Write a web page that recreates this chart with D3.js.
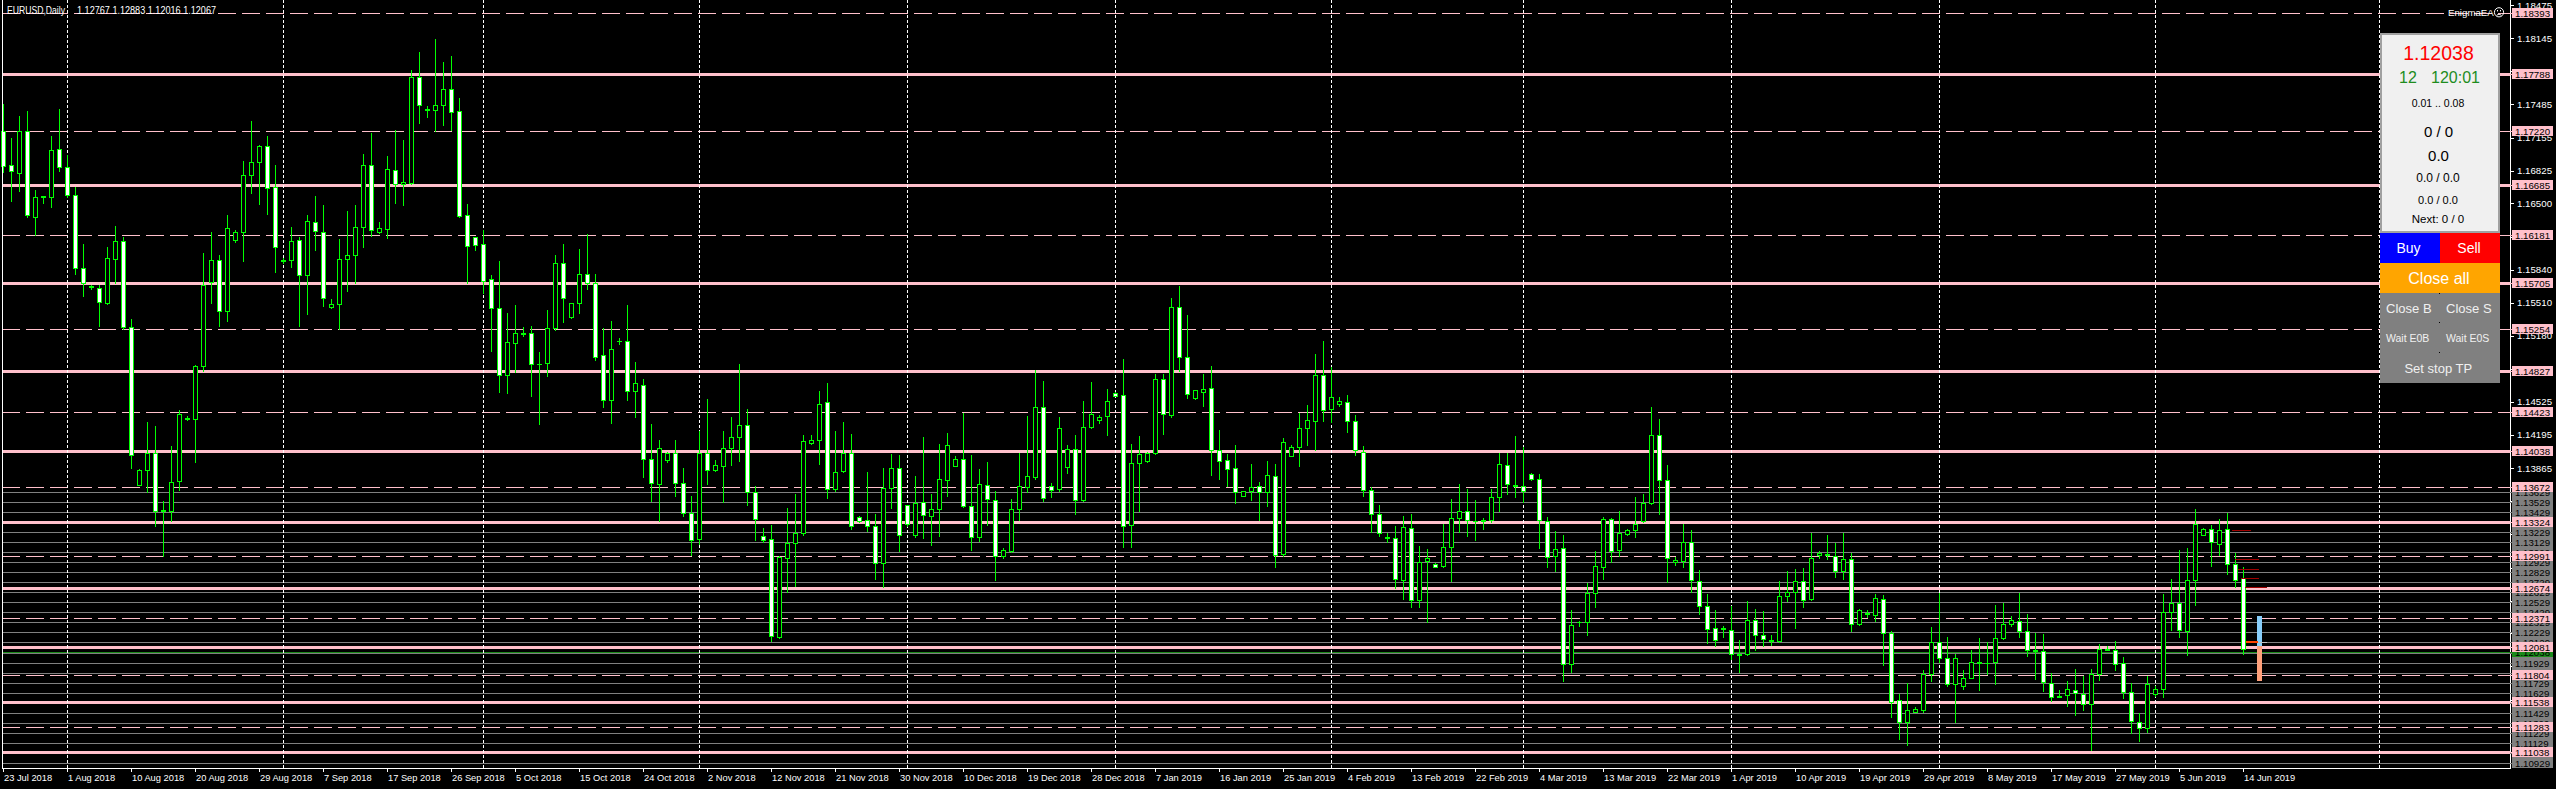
<!DOCTYPE html>
<html><head><meta charset="utf-8">
<script src="https://cdn.jsdelivr.net/npm/d3@7"></script>
<style>
html,body{margin:0;padding:0;background:#000;overflow:hidden;}
svg{display:block;}
text{font-family:"Liberation Sans",Arial,sans-serif;}
</style></head><body>
<svg id="c" width="2556" height="789"></svg>
<script>
// ---------------- DATA ----------------
const symbolTitle = "EURUSD,Daily";
const titleOHLC = "1.12767 1.12883 1.12016 1.12067";
const opens = [1.17223,1.16878,1.16805,1.17223,1.16367,1.16559,1.16566,1.17037,1.16858,1.16579,
1.15852,1.15673,1.15660,1.15510,1.15949,1.16121,1.15265,1.13701,1.13850,1.14016,
1.13445,1.13442,1.13737,1.14368,1.14358,1.14886,1.15713,1.15932,1.15424,1.16131,
1.16217,1.16779,1.16908,1.17067,1.16659,1.15935,1.15932,1.16131,1.15792,1.16310,
1.16211,1.15464,1.15494,1.15942,1.15988,1.16267,1.16878,1.16217,1.16241,1.16828,
1.16692,1.16705,1.17755,1.17436,1.17433,1.17476,1.17635,1.17416,1.16380,1.16164,
1.16091,1.15743,1.15454,1.14796,1.15112,1.15205,1.15205,1.14906,1.14913,1.15255,
1.15902,1.15371,1.15504,1.15802,1.15709,1.14986,1.14547,1.15135,1.15132,1.14637,
1.14697,1.13960,1.13711,1.13943,1.14016,1.13717,1.13419,1.13160,1.14016,1.13850,
1.13890,1.14066,1.14179,1.14289,1.13628,1.13186,1.13160,1.12184,1.12974,1.13120,
1.13219,1.14116,1.14149,1.14518,1.13661,1.13837,1.14016,1.13382,1.13352,1.13293,
1.12924,1.13671,1.13870,1.13495,1.13200,1.13528,1.13392,1.13459,1.13751,1.13890,
1.13960,1.13492,1.13180,1.13701,1.13551,1.12987,1.13040,1.13462,1.13678,1.13777,
1.14478,1.13691,1.13658,1.13877,1.14053,1.13551,1.14275,1.14342,1.14388,1.14614,
1.14597,1.13302,1.13920,1.13937,1.14016,1.14747,1.14398,1.15470,1.14966,1.14564,
1.14624,1.14667,1.14049,1.13950,1.13870,1.13591,1.13638,1.13691,1.13625,1.13791,
1.13014,1.13990,1.14076,1.14265,1.14338,1.14796,1.14455,1.14498,1.14518,1.14338,
1.14023,1.13651,1.13405,1.13176,1.13173,1.12755,1.13273,1.12555,1.12941,1.12914,
1.12894,1.13080,1.13369,1.13442,1.13342,1.13339,1.13346,1.13578,1.13900,1.13698,
1.13688,1.13810,1.13757,1.13339,1.12990,1.13073,1.11911,1.12336,1.12333,1.12622,
1.12881,1.13362,1.13047,1.13213,1.13246,1.13339,1.13518,1.14199,1.13751,1.12927,
1.12941,1.13133,1.12741,1.12489,1.12277,1.12270,1.12257,1.12018,1.12011,1.12356,
1.12207,1.12154,1.12144,1.12592,1.12632,1.12738,1.12562,1.13004,1.13010,1.12994,
1.12841,1.12964,1.12310,1.12419,1.12399,1.12565,1.12223,1.11553,1.11334,1.11437,
1.11453,1.11815,1.12137,1.11978,1.11719,1.11699,1.11779,1.11931,1.11928,1.11935,
1.12177,1.12316,1.12343,1.12243,1.12057,1.12044,1.11725,1.11599,1.11609,1.11656,
1.11619,1.11520,1.11818,1.12061,1.12057,1.11925,1.11636,1.11340,1.11281,1.11619,
1.11666,1.12433,1.12522,1.12243,1.12755,1.13203,1.13263,1.13113,1.13263,1.12907,
1.12767];
const highs = [1.17489,1.17147,1.17369,1.17419,1.16632,1.16576,1.17170,1.17436,1.16981,1.16666,
1.16095,1.15683,1.15683,1.16065,1.16274,1.16168,1.15348,1.13857,1.14322,1.14282,
1.13535,1.14083,1.14441,1.14388,1.14896,1.16002,1.16211,1.15982,1.16383,1.16234,
1.16921,1.17320,1.17081,1.17170,1.16881,1.15955,1.16264,1.16168,1.16383,1.16573,
1.16483,1.15553,1.16144,1.16423,1.16483,1.16991,1.17203,1.16314,1.16971,1.17230,
1.17130,1.17828,1.18007,1.17469,1.18136,1.17907,1.17967,1.17545,1.16493,1.16168,
1.16234,1.15783,1.15925,1.15407,1.15487,1.15268,1.15278,1.15019,1.15437,1.15985,
1.16095,1.15510,1.16045,1.16194,1.15796,1.15258,1.15328,1.15155,1.15487,1.14919,
1.14747,1.14308,1.14142,1.14023,1.14149,1.13864,1.13591,1.14232,1.14551,1.13943,
1.14232,1.14372,1.14900,1.14451,1.13684,1.13266,1.13296,1.12987,1.13465,1.13611,
1.14192,1.14192,1.14630,1.14713,1.14232,1.14325,1.14202,1.13392,1.13824,1.13412,
1.13864,1.14003,1.13993,1.13502,1.13784,1.14172,1.13605,1.14109,1.14219,1.13983,
1.14415,1.13993,1.13860,1.13923,1.13634,1.13070,1.13561,1.14016,1.14381,1.14840,
1.14730,1.13717,1.14372,1.14093,1.14192,1.14531,1.14720,1.14391,1.14650,1.14620,
1.14949,1.14103,1.14182,1.14023,1.14806,1.14806,1.15557,1.15676,1.15387,1.14644,
1.14806,1.14879,1.14242,1.14010,1.14093,1.13641,1.13903,1.13724,1.13933,1.13903,
1.14162,1.14093,1.14415,1.14491,1.14999,1.15128,1.14870,1.14574,1.14591,1.14391,
1.14083,1.13678,1.13495,1.13219,1.13286,1.13385,1.13405,1.13087,1.13057,1.12917,
1.13312,1.13561,1.13704,1.13654,1.13545,1.13369,1.13661,1.14016,1.14016,1.14182,
1.14076,1.13814,1.13804,1.13379,1.13236,1.13196,1.12449,1.12340,1.12721,1.13037,
1.13379,1.13366,1.13435,1.13263,1.13578,1.13605,1.14474,1.14358,1.13893,1.12980,
1.13312,1.13246,1.12848,1.12609,1.12456,1.12290,1.12489,1.12150,1.12539,1.12466,
1.12439,1.12200,1.12738,1.12838,1.12858,1.12868,1.13219,1.13037,1.13196,1.13120,
1.13219,1.13020,1.12466,1.12449,1.12609,1.12599,1.12240,1.11613,1.11725,1.11486,
1.11858,1.12283,1.12622,1.12180,1.12011,1.11858,1.12057,1.12174,1.12134,1.12499,
1.12522,1.12389,1.12622,1.12416,1.12223,1.12217,1.11825,1.11652,1.11742,1.11868,
1.11792,1.11862,1.12111,1.12097,1.12140,1.11984,1.11725,1.11427,1.11792,1.11692,
1.12609,1.12765,1.13053,1.13073,1.13462,1.13266,1.13296,1.13362,1.13419,1.13020,
1.12883];
const lows = [1.16815,1.16526,1.16626,1.16367,1.16184,1.16506,1.16466,1.16825,1.16559,1.15802,
1.15580,1.15650,1.15281,1.15497,1.15703,1.15251,1.13870,1.13694,1.13625,1.13289,
1.12987,1.13336,1.13651,1.14348,1.13927,1.14833,1.15510,1.15281,1.15331,1.16115,
1.15929,1.16606,1.16496,1.16397,1.15819,1.15909,1.15869,1.15281,1.15397,1.16035,
1.15480,1.15457,1.15245,1.15630,1.15703,1.16068,1.16174,1.16201,1.16158,1.16506,
1.16483,1.16692,1.17303,1.17363,1.17223,1.17283,1.17230,1.16367,1.15703,1.16035,
1.15610,1.15032,1.14621,1.14614,1.14823,1.15178,1.14581,1.14302,1.14780,1.15238,
1.15321,1.15361,1.15411,1.15643,1.14939,1.14474,1.14315,1.15105,1.14547,1.14375,
1.13777,1.13535,1.13339,1.13930,1.13585,1.13389,1.12997,1.13113,1.13711,1.13837,
1.13528,1.13893,1.13937,1.13495,1.13146,1.13130,1.12144,1.12177,1.12629,1.12688,
1.13196,1.14103,1.13910,1.13568,1.13638,1.13827,1.13256,1.13332,1.13236,1.12758,
1.12682,1.13468,1.13037,1.13293,1.13179,1.13170,1.13097,1.13186,1.13585,1.13883,
1.13478,1.13053,1.13140,1.13296,1.12748,1.12974,1.13030,1.13346,1.13625,1.13754,
1.13538,1.13578,1.13634,1.13817,1.13412,1.13538,1.14265,1.14315,1.14192,1.14584,
1.13080,1.13080,1.13439,1.13930,1.14010,1.14202,1.14375,1.14830,1.14564,1.14557,
1.14481,1.13794,1.13754,1.13684,1.13522,1.13588,1.13545,1.13346,1.13485,1.12881,
1.12987,1.13983,1.13883,1.14093,1.14043,1.14332,1.14325,1.14481,1.14225,1.13993,
1.13588,1.13226,1.13190,1.13127,1.12675,1.12559,1.12482,1.12482,1.12330,1.12881,
1.12881,1.12741,1.13226,1.13190,1.13153,1.13256,1.13329,1.13439,1.13605,1.13578,
1.13528,1.13744,1.13070,1.12881,1.12841,1.11745,1.11835,1.12293,1.12204,1.12482,
1.12765,1.12931,1.12987,1.13200,1.13180,1.13332,1.13512,1.13412,1.12731,1.12897,
1.12881,1.12632,1.12416,1.12124,1.12091,1.12184,1.11968,1.11835,1.12001,1.12051,
1.12091,1.12101,1.12134,1.12539,1.12273,1.12482,1.12549,1.12970,1.12960,1.12781,
1.12765,1.12243,1.12300,1.12383,1.12343,1.11901,1.11387,1.11168,1.11105,1.11433,
1.11433,1.11742,1.11935,1.11696,1.11337,1.11666,1.11775,1.11659,1.11818,1.11719,
1.12167,1.12290,1.12184,1.11994,1.11769,1.11642,1.11546,1.11586,1.11496,1.11410,
1.11460,1.11061,1.11752,1.12051,1.11852,1.11576,1.11227,1.11148,1.11237,1.11596,
1.11586,1.12250,1.12184,1.12001,1.12499,1.13200,1.12887,1.12997,1.12808,1.12682,
1.12016];
const closes = [1.16871,1.16818,1.17223,1.16380,1.16566,1.16569,1.17028,1.16858,1.16579,1.15852,
1.15709,1.15663,1.15514,1.15952,1.16121,1.15265,1.14000,1.13850,1.14016,1.13442,
1.13439,1.13731,1.14401,1.14352,1.14886,1.15683,1.15932,1.15424,1.16251,1.16217,
1.16779,1.16908,1.17071,1.16649,1.16061,1.15929,1.16121,1.15792,1.16320,1.16221,
1.15563,1.15494,1.15942,1.15982,1.16261,1.16878,1.16231,1.16251,1.16838,1.16696,
1.16709,1.17755,1.17476,1.17429,1.17476,1.17635,1.17406,1.16370,1.16071,1.16088,
1.15729,1.15454,1.14796,1.15125,1.15205,1.15198,1.14906,1.14899,1.15255,1.15902,
1.15563,1.15504,1.15802,1.15703,1.14972,1.14547,1.15055,1.15128,1.14637,1.14707,
1.13960,1.13717,1.14066,1.14016,1.13717,1.13419,1.13153,1.14016,1.13850,1.13900,
1.14066,1.14179,1.14289,1.13628,1.13359,1.13153,1.12194,1.12980,1.13120,1.13219,
1.14139,1.14149,1.14504,1.13661,1.13830,1.14016,1.13293,1.13339,1.13293,1.12924,
1.13664,1.13870,1.13203,1.13306,1.13520,1.13402,1.13459,1.13761,1.14099,1.13960,
1.13492,1.13180,1.13711,1.13558,1.12987,1.13047,1.13462,1.13691,1.13791,1.14478,
1.13568,1.13651,1.14259,1.14059,1.13551,1.14275,1.14408,1.14375,1.14528,1.14587,
1.13292,1.13920,1.14010,1.14016,1.14747,1.14401,1.15470,1.14966,1.14607,1.14640,
1.14657,1.14049,1.13937,1.13860,1.13628,1.13638,1.13681,1.13625,1.13800,1.13004,
1.14129,1.14076,1.14259,1.14342,1.14796,1.14448,1.14577,1.14531,1.14332,1.14043,
1.13651,1.13412,1.13219,1.13170,1.12765,1.13279,1.12555,1.12931,1.12974,1.12884,
1.13080,1.13369,1.13442,1.13352,1.13336,1.13346,1.13578,1.13910,1.13711,1.13691,
1.13634,1.13761,1.13346,1.12980,1.13063,1.11911,1.12306,1.12330,1.12622,1.12887,
1.13362,1.13040,1.13219,1.13253,1.13306,1.13518,1.14199,1.13751,1.12967,1.12947,
1.13133,1.12748,1.12489,1.12267,1.12157,1.12263,1.12018,1.12008,1.12356,1.12200,
1.12167,1.12147,1.12595,1.12632,1.12738,1.12555,1.12974,1.13020,1.13004,1.12841,
1.12964,1.12310,1.12449,1.12413,1.12575,1.12223,1.11536,1.11334,1.11460,1.11463,
1.11818,1.12137,1.11978,1.11719,1.11978,1.11779,1.11935,1.11925,1.11921,1.12177,
1.12310,1.12350,1.12243,1.12057,1.12041,1.11732,1.11589,1.11589,1.11669,1.11623,
1.11516,1.11818,1.12067,1.12054,1.11918,1.11636,1.11350,1.11277,1.11719,1.11669,
1.12433,1.12522,1.12257,1.12755,1.13312,1.13263,1.13130,1.13253,1.12907,1.12755,
1.12067];

const dateLabels = ["23 Jul 2018","1 Aug 2018","10 Aug 2018","20 Aug 2018","29 Aug 2018","7 Sep 2018",
"17 Sep 2018","26 Sep 2018","5 Oct 2018","15 Oct 2018","24 Oct 2018","2 Nov 2018","12 Nov 2018",
"21 Nov 2018","30 Nov 2018","10 Dec 2018","19 Dec 2018","28 Dec 2018","7 Jan 2019","16 Jan 2019",
"25 Jan 2019","4 Feb 2019","13 Feb 2019","22 Feb 2019","4 Mar 2019","13 Mar 2019","22 Mar 2019",
"1 Apr 2019","10 Apr 2019","19 Apr 2019","29 Apr 2019","8 May 2019","17 May 2019","27 May 2019",
"5 Jun 2019","14 Jun 2019"];
const dateLabelStep = 8;                       // one label every 8 bars
const monthStartBars = [8,35,60,87,113,139,166,190,216,242,269];
const vLineBar = 297;

const priceTicks = [1.18475,1.18145,1.17815,1.17485,1.17155,1.16825,1.16500,1.16170,1.15840,1.15510,
1.15180,1.14850,1.14525,1.14195,1.13865,1.13535,1.13205,1.12875,1.12545,1.12220,1.11890,1.11560,1.11230];
const solidLevels  = [1.17788,1.16685,1.15705,1.14827,1.14038,1.13324,1.12674,1.12081,1.11538,1.11038];
const dashedLevels = [1.18393,1.17220,1.16181,1.15254,1.14423,1.13672,1.12991,1.12371,1.11804,1.11283];
const greyLevels = [1.13629,1.13529,1.13429,1.13329,1.13229,1.13129,1.13029,1.12929,1.12829,1.12729,
1.12629,1.12529,1.12429,1.12329,1.12229,1.12129,1.12029,1.11929,1.11829,1.11729,1.11629,1.11529,
1.11429,1.11329,1.11229,1.11129,1.11029,1.10929];
const bidPrice = 1.12038;

// small indicator marks at the right end
const markLevels = [1.13246,1.12964,1.12864,1.12775,1.12685];
const markFrom   = [278.6,279.0,279.4,279.8,280.25];
const markTo     = [281.0,282.0,282.0,282.0,283.0];
const projBar = 282;
const projUp   = [1.12091,1.12393];
const projDown = [1.11745,1.12091];
const pivotLine = 1.12134;

// panel texts
const panelPrice = "1.12038";
const panelCount = "12", panelTime = "120:01";
const panelLots = "0.01 .. 0.08";
const panelRows = ["0 / 0","0.0","0.0 / 0.0","0.0 / 0.0","Next: 0 / 0"];

// ---------------- DRAW ----------------
const W = 2556, H = 789;
const plotL = 2, plotR = 2510, plotB = 768;
const svg = d3.select("#c");
const x = d3.scaleLinear().domain([0, 1]).range([3, 11]);           // 8 px per bar
const y = d3.scaleLinear().domain([1.18475, 1.10929]).range([5, 763]);
const cr = v => Math.round(v) + 0.5;
const fmt = d3.format(".5f");
const LIME = "#00ff00", PINK = "#ffc0cb";

svg.append("rect").attr("width", W).attr("height", H).attr("fill", "#000");
const plot = svg.append("g").attr("shape-rendering", "crispEdges");

// grey levels
plot.append("g").selectAll("line").data(greyLevels).join("line")
  .attr("x1", plotL).attr("x2", plotR)
  .attr("y1", d => cr(y(d))).attr("y2", d => cr(y(d)))
  .attr("stroke", "#808080");

// dashed pink
plot.append("g").selectAll("line").data(dashedLevels).join("line")
  .attr("x1", plotL).attr("x2", plotR)
  .attr("y1", d => cr(y(d))).attr("y2", d => cr(y(d)))
  .attr("stroke", PINK).attr("stroke-dasharray", "18,6");

// solid pink
plot.append("g").selectAll("rect").data(solidLevels).join("rect")
  .attr("x", plotL).attr("width", plotR - plotL)
  .attr("y", d => Math.round(y(d)) - 1).attr("height", 3)
  .attr("fill", PINK);

// bid line
plot.append("line").attr("x1", plotL).attr("x2", plotR)
  .attr("y1", cr(y(bidPrice))).attr("y2", cr(y(bidPrice)))
  .attr("stroke", "#1a8a1a");

// month separators + vertical line
plot.append("g").selectAll("line").data(monthStartBars.concat([vLineBar])).join("line")
  .attr("x1", d => cr(x(d))).attr("x2", d => cr(x(d)))
  .attr("y1", 0).attr("y2", plotB)
  .attr("stroke", "#fff").attr("stroke-dasharray", "3,2");

// candles
const bars = opens.map((o, i) => ({i, o, h: highs[i], l: lows[i], c: closes[i]}));
const cg = plot.append("g");
bars.forEach(b => {
  const cx = Math.round(x(b.i));
  const yH = Math.round(y(b.h)), yL = Math.round(y(b.l));
  const yT = Math.round(y(Math.max(b.o, b.c))), yB = Math.round(y(Math.min(b.o, b.c)));
  cg.append("rect").attr("x", cx).attr("y", yH).attr("width", 1).attr("height", yL - yH + 1).attr("fill", LIME);
  cg.append("rect").attr("x", cx - 2).attr("y", yT).attr("width", 5).attr("height", yB - yT + 1).attr("fill", LIME);
  if (yB - yT >= 2) {
    cg.append("rect").attr("x", cx - 1).attr("y", yT + 1).attr("width", 3).attr("height", yB - yT - 1)
      .attr("fill", b.c >= b.o ? "#000" : "#fff");
  }
});

// indicator marks
const ig = plot.append("g");
markLevels.forEach((lv, k) => {
  ig.append("line").attr("x1", x(markFrom[k])).attr("x2", x(markTo[k]))
    .attr("y1", cr(y(lv))).attr("y2", cr(y(lv))).attr("stroke", "#a00000");
});
ig.append("rect").attr("x", Math.round(x(projBar)) - 2).attr("width", 5)
  .attr("y", Math.round(y(projUp[1]))).attr("height", Math.round(y(projUp[0])) - Math.round(y(projUp[1])))
  .attr("fill", "#87cefa");
ig.append("rect").attr("x", Math.round(x(projBar)) - 2).attr("width", 5)
  .attr("y", Math.round(y(projDown[1]))).attr("height", Math.round(y(projDown[0])) - Math.round(y(projDown[1])))
  .attr("fill", "#ffa07a");
ig.append("rect").attr("x", x(280.4)).attr("width", x(281.85) - x(280.4))
  .attr("y", Math.round(y(pivotLine)) - 1).attr("height", 2).attr("fill", "#ff4500");
ig.append("line").attr("x1", x(281.85)).attr("x2", x(283))
  .attr("y1", cr(y(pivotLine))).attr("y2", cr(y(pivotLine))).attr("stroke", "#c0c0c0");

// borders
plot.append("line").attr("x1", 2.5).attr("x2", 2.5).attr("y1", 0).attr("y2", plotB + 0.5).attr("stroke", "#fff");
plot.append("line").attr("x1", plotR + 0.5).attr("x2", plotR + 0.5).attr("y1", 0).attr("y2", plotB + 0.5).attr("stroke", "#fff");
plot.append("line").attr("x1", 2).attr("x2", plotR + 1).attr("y1", plotB + 0.5).attr("y2", plotB + 0.5).attr("stroke", "#fff");

// title
svg.append("text").attr("x", 7).attr("y", 14).attr("fill", "#fff").attr("font-size", 10)
  .attr("textLength", 58).attr("lengthAdjust", "spacingAndGlyphs").text(symbolTitle);
svg.append("text").attr("x", 77).attr("y", 14).attr("fill", "#fff").attr("font-size", 10)
  .attr("textLength", 139).attr("lengthAdjust", "spacingAndGlyphs").text(titleOHLC);

// EnigmaEA + face
svg.append("text").attr("x", 2448).attr("y", 16).attr("fill", "#fff").attr("font-size", 9.7).text("EnigmaEA");
const face = svg.append("g").attr("stroke", "#fff").attr("fill", "none");
face.append("circle").attr("cx", 2499).attr("cy", 12.3).attr("r", 4.6);
face.append("path").attr("d", "M2496.8,15.2 Q2499,13 2501.2,15.2");
svg.append("rect").attr("x", 2497).attr("y", 10).attr("width", 1).attr("height", 1.4).attr("fill", "#fff");
svg.append("rect").attr("x", 2500).attr("y", 10).attr("width", 1).attr("height", 1.4).attr("fill", "#fff");

// price axis ticks
const ax = svg.append("g");
ax.selectAll("line").data(priceTicks).join("line")
  .attr("x1", plotR).attr("x2", plotR + 4)
  .attr("y1", d => cr(y(d))).attr("y2", d => cr(y(d)))
  .attr("stroke", "#fff").attr("shape-rendering", "crispEdges");
ax.selectAll("text").data(priceTicks).join("text")
  .attr("x", 2517).attr("y", d => y(d) + 3.5)
  .attr("fill", "#fff").attr("font-size", 9.7).text(fmt);

// object labels
function labels(data, bg, fg) {
  const g = svg.append("g");
  data.forEach(v => {
    const yy = Math.round(y(v));
    g.append("rect").attr("x", 2512).attr("y", yy - 5).attr("width", 41).attr("height", 10)
      .attr("fill", bg).attr("shape-rendering", "crispEdges");
    g.append("line").attr("x1", plotR).attr("x2", 2512).attr("y1", yy + 0.5).attr("y2", yy + 0.5)
      .attr("stroke", bg).attr("shape-rendering", "crispEdges");
    g.append("text").attr("x", 2515).attr("y", yy + 4).attr("fill", fg)
      .attr("font-size", 9.7).text(fmt(v));
  });
}
labels(greyLevels, "#808080", "#000");
labels([bidPrice], "#1a8a1a", "#000");
labels(dashedLevels.concat(solidLevels), PINK, "#000");

// date axis
const xa = svg.append("g");
dateLabels.forEach((t, k) => {
  const bi = k * dateLabelStep;
  const px = Math.round(x(bi));
  xa.append("line").attr("x1", px + 0.5).attr("x2", px + 0.5).attr("y1", plotB).attr("y2", plotB + 4)
    .attr("stroke", "#fff").attr("shape-rendering", "crispEdges");
  xa.append("text").attr("x", px + 1).attr("y", 781).attr("fill", "#fff")
    .attr("font-size", 9.3).text(t);
});

// control panel
const p = svg.append("g");
p.append("rect").attr("x", 2381).attr("y", 34).attr("width", 118).attr("height", 198)
  .attr("fill", "#f0f0f0").attr("stroke", "#a0a0a0").attr("stroke-width", 2);
const ctext = (tx, ty, s, size, col, anchor) =>
  p.append("text").attr("x", tx).attr("y", ty).attr("font-size", size).attr("fill", col)
   .attr("text-anchor", anchor || "middle").text(s);
ctext(2438.5, 60, panelPrice, 19.5, "#ff0000");
ctext(2399, 83.3, panelCount, 16, "#1e8c1e", "start");
ctext(2431, 83.3, panelTime, 16, "#1e8c1e", "start");
ctext(2438, 106.7, panelLots, 10.5, "#000");
ctext(2438.5, 137.3, panelRows[0], 15, "#000");
ctext(2438.5, 160.7, panelRows[1], 15, "#000");
ctext(2438, 181.7, panelRows[2], 12, "#000");
ctext(2438, 204, panelRows[3], 11, "#000");
ctext(2438, 222.7, panelRows[4], 11.5, "#000");

p.append("rect").attr("x", 2380).attr("y", 233).attr("width", 60).attr("height", 30).attr("fill", "#0000ff");
p.append("rect").attr("x", 2440).attr("y", 233).attr("width", 60).attr("height", 30).attr("fill", "#ff0000");
ctext(2408.5, 253, "Buy", 14, "#fff");
ctext(2469, 253, "Sell", 14, "#fff");
p.append("rect").attr("x", 2380).attr("y", 263).attr("width", 120).attr("height", 30).attr("fill", "#ffa500");
ctext(2439, 283.7, "Close all", 16, "#fff");
p.append("rect").attr("x", 2380).attr("y", 293).attr("width", 120).attr("height", 90).attr("fill", "#808080");
ctext(2408.8, 313.3, "Close B", 13, "#f0f0f0");
ctext(2468.8, 313.3, "Close S", 13, "#f0f0f0");
ctext(2407.7, 342.3, "Wait E0B", 10.5, "#f0f0f0");
ctext(2467.7, 342.3, "Wait E0S", 10.5, "#f0f0f0");
ctext(2438.3, 372.7, "Set stop TP", 13, "#f0f0f0");
[293, 322, 352].forEach(yy => p.append("rect").attr("x", 2439).attr("y", yy).attr("width", 1).attr("height", 1).attr("fill", "#000"));
</script>
</body></html>
